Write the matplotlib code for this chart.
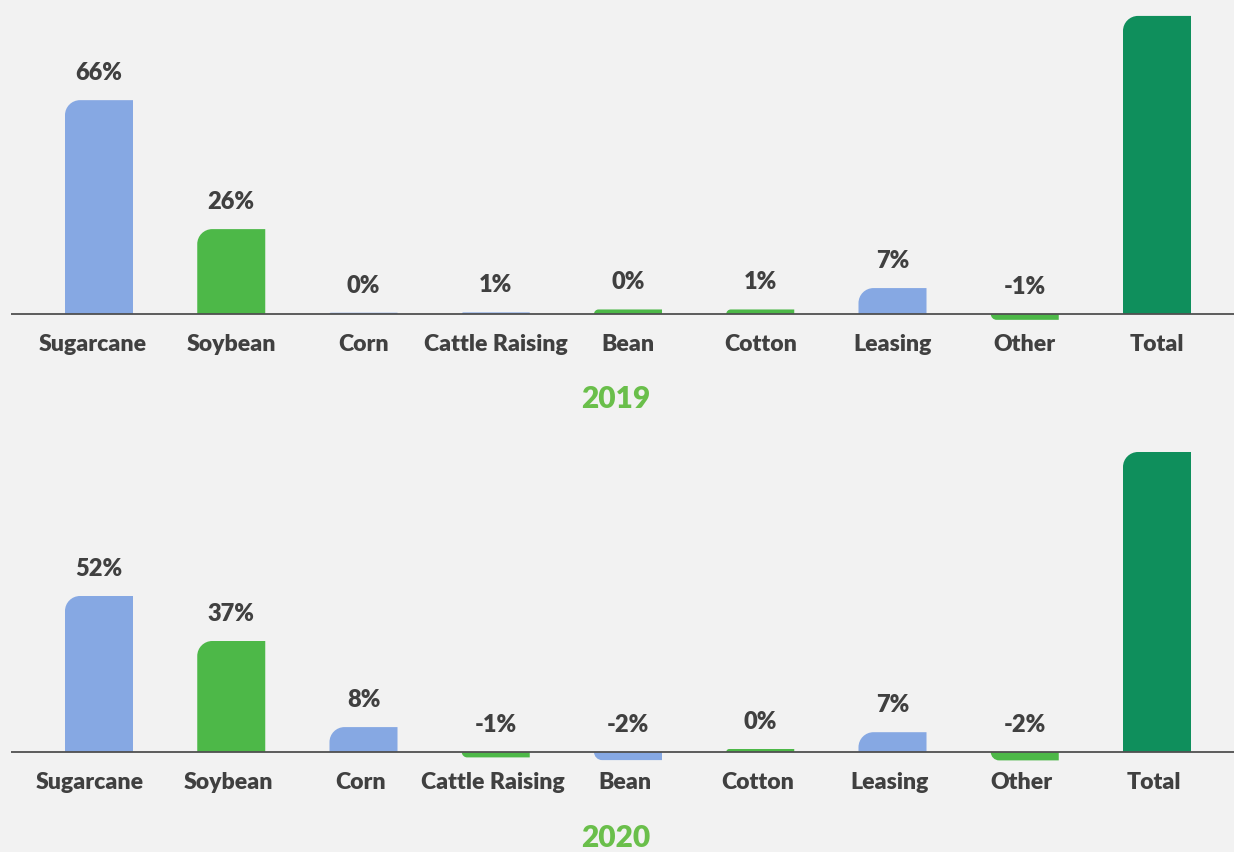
import matplotlib
matplotlib.use("Agg")
import matplotlib.pyplot as plt
from matplotlib.path import Path
from matplotlib.patches import PathPatch

plt.rcParams['font.family'] = ['Lato', 'DejaVu Sans']

categories = ["Sugarcane", "Soybean", "Corn", "Cattle Raising", "Bean",
              "Cotton", "Leasing", "Other", "Total"]
values_2019 = [66, 26.2, 0.4, 0.5, 1.4, 1.4, 8.0, -1.8, 92]
labels_2019 = ["66%", "26%", "0%", "1%", "0%", "1%", "7%", "-1%", ""]
values_2020 = [52, 37, 8.3, -1.8, -2.7, 1.0, 6.6, -2.8, 100]
labels_2020 = ["52%", "37%", "8%", "-1%", "-2%", "0%", "7%", "-2%", ""]
years = ["2019", "2020"]

BLUE = "#86A8E3"
GREEN = "#4DB848"
DARK = "#0F8F5C"
colors_2019 = [BLUE, GREEN, BLUE, BLUE, GREEN, GREEN, BLUE, GREEN, DARK]
colors_2020 = [BLUE, GREEN, BLUE, GREEN, BLUE, GREEN, BLUE, GREEN, DARK]
BG = "#F2F2F2"
TXT = "#404040"
YEAR = "#6ABF4B"

W, H = 1234, 852
fig = plt.figure(figsize=(W / 100, H / 100), dpi=100, facecolor=BG)
WEIGHT = 'heavy'

def add_panel(top_px, bottom_px, base_px, scale, vals, labs, cols, year,
              year_base_px, lab_shift):
    left_px, right_px = 11, 1234
    ax = fig.add_axes([left_px / W, 1 - bottom_px / H,
                       (right_px - left_px) / W, (bottom_px - top_px) / H])
    ax.set_facecolor(BG)
    ymax = (base_px - top_px) / scale
    ymin = -(bottom_px - base_px) / scale
    ax.set_ylim(ymin, ymax)
    xstep = 132.25
    x0 = -(99 - left_px) / xstep
    ax.set_xlim(x0, x0 + (right_px - left_px) / xstep)
    for s in ax.spines.values():
        s.set_visible(False)
    ax.set_xticks([])
    ax.set_yticks([])

    xs = list(range(len(categories)))
    bars = ax.bar(xs, vals, width=68 / xstep, color=cols)
    r_px = 15
    k = 0.5523
    for b, c in zip(bars, cols):
        b.set_visible(False)
        xa = b.get_x(); xb = xa + b.get_width(); h = b.get_height()
        hp = abs(h) * scale
        rp = min(r_px, hp)
        rx = rp / xstep
        ry = rp / scale
        if h >= 0:
            verts = [(xa, 0), (xa, h - ry),
                     (xa, h - ry + k * ry), (xa + rx - k * rx, h), (xa + rx, h),
                     (xb, h), (xb, 0), (xa, 0)]
            codes = [Path.MOVETO, Path.LINETO, Path.CURVE4, Path.CURVE4, Path.CURVE4,
                     Path.LINETO, Path.LINETO, Path.CLOSEPOLY]
        else:
            verts = [(xa, 0), (xb, 0), (xb, h), (xa + rx, h),
                     (xa + rx - k * rx, h), (xa, h + ry - k * ry), (xa, h + ry),
                     (xa, 0)]
            codes = [Path.MOVETO, Path.LINETO, Path.LINETO, Path.LINETO,
                     Path.CURVE4, Path.CURVE4, Path.CURVE4, Path.CLOSEPOLY]
        ax.add_patch(PathPatch(Path(verts, codes), facecolor=c, edgecolor='none',
                               zorder=2))

    ax.axhline(0, color="#505050", lw=1.3, zorder=3)

    for x, v, lab in zip(xs, vals, labs):
        if lab:
            ax.annotate(lab, (x, max(v, 0)), xytext=(0, 20),
                        textcoords='offset pixels', ha='center', va='baseline',
                        fontsize=17, fontweight=WEIGHT, color=TXT)
    for x, cat in zip(xs, categories):
        ax.annotate(cat, (x, 0), xytext=((-6 if x == 0 else 0) + lab_shift, -37),
                    textcoords='offset pixels', ha='center', va='baseline',
                    fontsize=16.6, fontweight=WEIGHT, color=TXT)
    fig.text(616 / W, 1 - year_base_px / H, year, ha='center', va='baseline',
             fontsize=21.5, fontweight=WEIGHT, color=YEAR)

add_panel(0, 340, 314, 3.24, values_2019, labels_2019, colors_2019, years[0], 408, 0)
add_panel(440, 790, 752, 3.0, values_2020, labels_2020, colors_2020, years[1], 847, -3)

fig.savefig("out.png", dpi=100, facecolor=BG)
